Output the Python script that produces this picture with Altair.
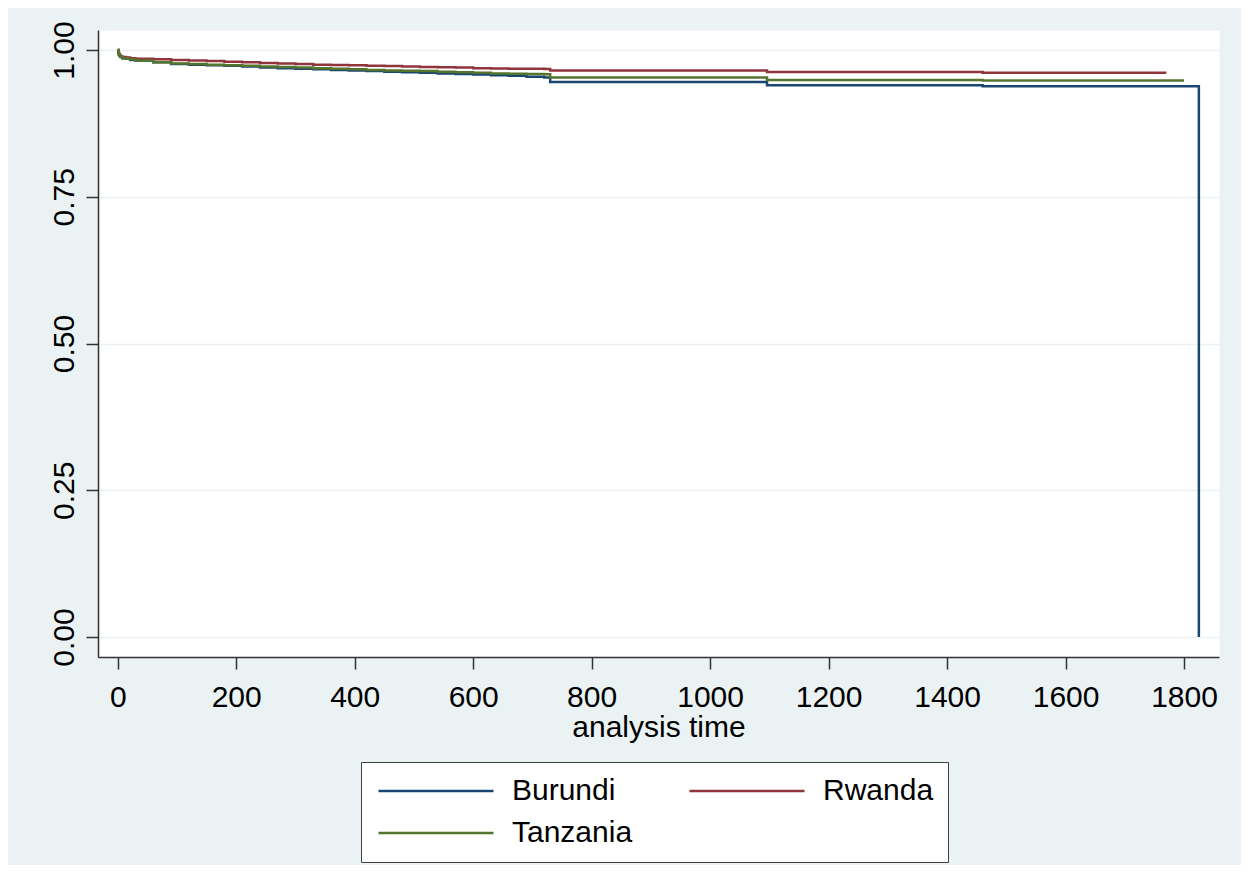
import altair as alt
import pandas as pd

# ---- data (Kaplan-Meier style step curves) ----
countries = ["Burundi", "Rwanda", "Tanzania"]
colors = ["#1a476f", "#90353b", "#55752f"]

burundi_t = [0, 1, 2, 3, 5, 8, 14, 21, 30, 60, 90, 120, 150, 180, 210, 240, 270, 300,
             330, 360, 390, 420, 450, 480, 510, 540, 570, 600, 630, 660, 690, 720,
             730, 1096, 1460, 1825]
burundi_s = [1.0, 0.995, 0.992, 0.990, 0.988, 0.986, 0.985, 0.983, 0.982, 0.979, 0.976,
             0.975, 0.974, 0.973, 0.972, 0.970, 0.969, 0.968, 0.967, 0.966, 0.965, 0.964,
             0.963, 0.962, 0.961, 0.960, 0.959, 0.958, 0.957, 0.956, 0.9545, 0.953,
             0.9455, 0.940, 0.938, 0.0]

rwanda_t = [0, 1, 2, 3, 5, 8, 14, 21, 30, 60, 90, 120, 150, 180, 210, 240, 270, 300,
            330, 360, 390, 420, 450, 480, 510, 540, 570, 600, 630, 660, 690, 720,
            730, 1096, 1460, 1770]
rwanda_s = [1.0, 0.996, 0.993, 0.991, 0.989, 0.988, 0.987, 0.986, 0.985, 0.984, 0.983,
            0.982, 0.981, 0.980, 0.979, 0.978, 0.977, 0.976, 0.975, 0.9745, 0.974, 0.973,
            0.9725, 0.972, 0.971, 0.9705, 0.970, 0.969, 0.9685, 0.968, 0.9678, 0.9675,
            0.965, 0.9625, 0.961, 0.961]

tanzania_t = [0, 1, 2, 3, 5, 8, 14, 21, 30, 60, 90, 120, 150, 180, 210, 240, 270, 300,
              330, 360, 390, 420, 450, 480, 510, 540, 570, 600, 630, 660, 690, 720,
              730, 1096, 1460, 1800]
tanzania_s = [1.0, 0.995, 0.992, 0.990, 0.988, 0.986, 0.985, 0.984, 0.982, 0.979, 0.977,
              0.976, 0.975, 0.974, 0.973, 0.972, 0.971, 0.970, 0.969, 0.968, 0.967, 0.966,
              0.965, 0.9645, 0.964, 0.963, 0.962, 0.961, 0.960, 0.9595, 0.959, 0.9585,
              0.953, 0.949, 0.948, 0.948]

x_ticks = [0, 200, 400, 600, 800, 1000, 1200, 1400, 1600, 1800]
y_ticks = [0.0, 0.25, 0.5, 0.75, 1.0]

rows = []
for name, ts, ss in [("Burundi", burundi_t, burundi_s),
                     ("Rwanda", rwanda_t, rwanda_s),
                     ("Tanzania", tanzania_t, tanzania_s)]:
    for i, (t, s) in enumerate(zip(ts, ss)):
        rows.append({"country": name, "t": t, "s": s, "order": i})
df = pd.DataFrame(rows)

FONT = "Liberation Sans"
AXIS_COLOR = "#333333"

chart = (
    alt.Chart(df)
    .mark_line(interpolate="step-after", strokeWidth=2.5)
    .encode(
        x=alt.X("t:Q",
                scale=alt.Scale(domain=[-33.3, 1859], nice=False, zero=False),
                axis=alt.Axis(values=x_ticks, format="d", title="analysis time", grid=False,
                              labelFontSize=30, titleFontSize=30, titleFontWeight="normal",
                              labelPadding=13, titlePadding=0, tickSize=12,
                              labelFlush=False)),
        y=alt.Y("s:Q",
                scale=alt.Scale(domain=[-0.034, 1.034], nice=False, zero=False),
                axis=alt.Axis(values=y_ticks, format=".2f", title=None, grid=True,
                              labelFontSize=30, labelAngle=270, labelAlign="center",
                              labelBaseline="alphabetic", labelPadding=13, tickSize=12,
                              labelFlush=False)),
        color=alt.Color("country:N",
                        scale=alt.Scale(domain=countries, range=colors),
                        legend=alt.Legend(title=None, orient="none", legendX=263, legendY=732,
                                          columns=2, direction="horizontal",
                                          symbolType="M-1,0H9", symbolSize=529,
                                          symbolStrokeWidth=2.4, symbolFillColor="transparent",
                                          labelFontSize=30,
                                          labelOffset=107, columnPadding=51, rowPadding=12,
                                          padding=14, fillColor="white",
                                          strokeColor="#404040", labelLimit=400,
                                          labelFont=FONT, labelColor="black")),
        order="order:Q",
        detail="country:N",
    )
    .properties(
        width=1121,
        height=627,
        autosize=alt.AutoSizeParams(type="none"),
        padding={"left": 90, "top": 22, "right": 22, "bottom": 208},
        background="#EAF2F3",
    )
    .configure_view(fill="white", strokeOpacity=0)
    .configure_axis(
        labelFont=FONT, titleFont=FONT, labelColor="black", titleColor="black",
        domainColor=AXIS_COLOR, tickColor=AXIS_COLOR, domainWidth=1.5, tickWidth=1.5,
        gridColor="#EAF2F3", gridWidth=1.5,
    )
)

chart.save("out.html", embed_options={"renderer": "svg", "actions": False})
